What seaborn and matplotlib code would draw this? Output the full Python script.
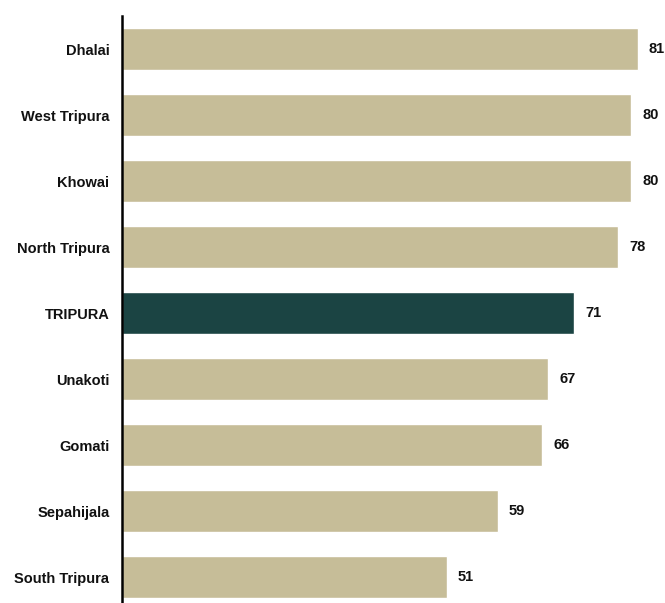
import matplotlib
matplotlib.use("Agg")
import matplotlib.pyplot as plt
import seaborn as sns
import pandas as pd

districts = ["Dhalai", "West Tripura", "Khowai", "North Tripura", "TRIPURA",
             "Unakoti", "Gomati", "Sepahijala", "South Tripura"]
values = [81, 80, 80, 78, 71, 67, 66, 59, 51]
highlight = "TRIPURA"

tan = "#C6BD98"
teal = "#1B4443"

df = pd.DataFrame({"district": districts, "value": values})
df["group"] = ["state" if d == highlight else "district" for d in districts]

sns.set_theme(style="white")
plt.rcParams["font.family"] = ["Liberation Sans", "DejaVu Sans"]

fig = plt.figure(figsize=(6.65, 6.03), dpi=100)
ax = fig.add_axes([122 / 665, 0.0, (663 - 122) / 665, (603 - 16) / 603])

sns.barplot(data=df, x="value", y="district", hue="group",
            palette={"district": tan, "state": teal},
            order=districts, width=0.64, dodge=False, legend=False, ax=ax,
            saturation=1)

ax.set_xlim(0, 85)
ax.set_ylim(8.39, -0.5)
ax.set_xlabel("")
ax.set_ylabel("")
ax.set_xticks([])
for s in ["top", "right", "bottom"]:
    ax.spines[s].set_visible(False)
ax.spines["left"].set_color("black")
ax.spines["left"].set_linewidth(1.8)
ax.tick_params(axis="y", length=0, pad=9)
for lbl in ax.get_yticklabels():
    lbl.set_fontsize(10.5)
    lbl.set_fontweight("bold")
    lbl.set_color("#111111")

for i, v in enumerate(values):
    ax.annotate(f"{v}", xy=(v, i), xytext=(8, 0), textcoords="offset points",
                va="center", ha="left", fontsize=10.5, fontweight="bold",
                color="#111111")

fig.savefig("out.png", dpi=100)
